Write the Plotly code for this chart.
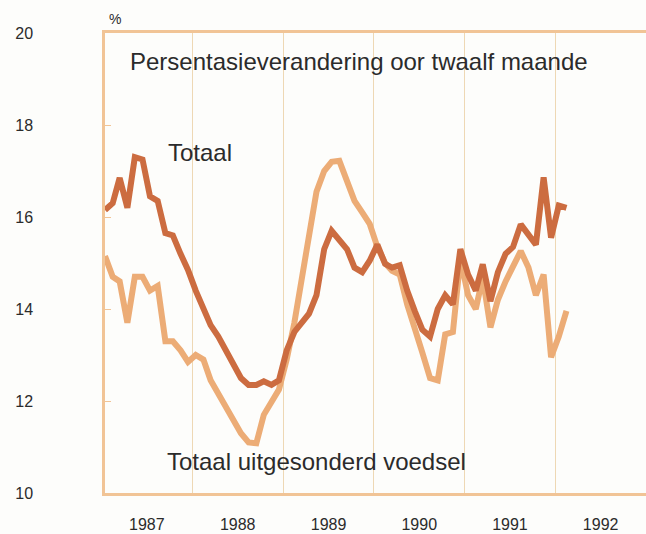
import pandas as pd
import plotly.graph_objects as go

# Twelve-month percentage change, monthly from January 1987 to February 1992
start_month = "1987-01-15"
n_months = 62

totaal = [
    16.15, 16.30, 16.85, 16.20, 17.30, 17.25, 16.45, 16.35, 15.65, 15.60,
    15.20, 14.85, 14.40, 14.00, 13.65, 13.40, 13.10, 12.80, 12.50, 12.35,
    12.35, 12.43, 12.35, 12.45, 13.10, 13.50, 13.70, 13.90, 14.30, 15.30,
    15.70, 15.50, 15.30, 14.90, 14.80, 15.05, 15.40, 14.98, 14.90, 14.95,
    14.40, 13.95, 13.55, 13.40, 14.00, 14.30, 14.10, 15.30, 14.75, 14.40,
    14.97, 14.17, 14.80, 15.20, 15.35, 15.84, 15.60, 15.40, 16.86, 15.55,
    16.25, 16.20,
]

sonder_voedsel = [
    15.15, 14.70, 14.60, 13.70, 14.70, 14.70, 14.40, 14.50, 13.30, 13.30,
    13.10, 12.85, 13.00, 12.90, 12.45, 12.15, 11.85, 11.55, 11.30, 11.10,
    11.08, 11.70, 11.95, 12.25, 12.90, 13.70, 14.60, 15.65, 16.55, 17.00,
    17.20, 17.22, 16.80, 16.35, 16.10, 15.85, 15.35, 15.00, 14.83, 14.75,
    14.10, 13.60, 13.05, 12.50, 12.45, 13.45, 13.50, 15.10, 14.30, 14.00,
    14.68, 13.60, 14.20, 14.60, 14.95, 15.26, 14.90, 14.30, 14.75, 12.95,
    13.40, 13.96,
]

y_ticks = [10, 12, 14, 16, 18, 20]

title_text = "Persentasieverandering oor twaalf maande"
label_totaal = "Totaal"
label_sonder = "Totaal uitgesonderd voedsel"

months = pd.date_range("1987-01-01", periods=n_months, freq="MS") + pd.Timedelta(days=14)

DARK = "rgb(204,108,64)"
LIGHT = "rgb(236,172,118)"
FRAME = "rgb(241,196,150)"
GRID = "rgb(238,216,180)"
TEXT = "#2b2b2b"
FONT = "Liberation Sans, Arial, sans-serif"

fig = go.Figure()
fig.add_trace(go.Scatter(
    x=months, y=sonder_voedsel, mode="lines",
    line=dict(color=LIGHT, width=6), hoverinfo="skip", showlegend=False,
))
fig.add_trace(go.Scatter(
    x=months, y=totaal, mode="lines",
    line=dict(color=DARK, width=6), hoverinfo="skip", showlegend=False,
))

fig.update_layout(
    width=646, height=534,
    margin=dict(l=105, r=0, t=33, b=41),
    paper_bgcolor="#fdfdfb", plot_bgcolor="#fdfdfb",
    font=dict(family=FONT, color=TEXT),
    xaxis=dict(
        range=["1987-01-15", "1992-12-31"],
        tick0="1987-01-01", dtick="M12", tickformat="%Y",
        ticklabelmode="period",
        showgrid=True, gridcolor=GRID, gridwidth=1,
        showline=True, linecolor=FRAME, linewidth=2.5, mirror=True,
        ticks="", tickfont=dict(size=16, color=TEXT),
        ticklabelstandoff=15,
        zeroline=False,
    ),
    yaxis=dict(
        range=[10, 20], tickvals=y_ticks,
        showgrid=False, zeroline=False,
        showline=True, linecolor=FRAME, linewidth=2.5,
        ticks="inside", ticklen=6, tickcolor=FRAME, tickwidth=1,
        tickfont=dict(size=16, color=TEXT),
        ticklabelstandoff=66,
    ),
    annotations=[
        dict(text=title_text, xref="paper", yref="paper",
             x=0.043, y=0.939, xanchor="left", yanchor="middle",
             showarrow=False, font=dict(size=24, color=TEXT)),
        dict(text=label_totaal, xref="paper", yref="paper",
             x=0.113, y=0.741, xanchor="left", yanchor="middle",
             showarrow=False, font=dict(size=24, color=TEXT)),
        dict(text=label_sonder, xref="paper", yref="paper",
             x=0.111, y=0.069, xanchor="left", yanchor="middle",
             showarrow=False, font=dict(size=24, color=TEXT)),
        dict(text="%", xref="paper", yref="paper",
             x=0.018, y=1.03, xanchor="center", yanchor="middle",
             showarrow=False, font=dict(size=14, color=TEXT)),
    ],
)

fig.write_html("out.html")
